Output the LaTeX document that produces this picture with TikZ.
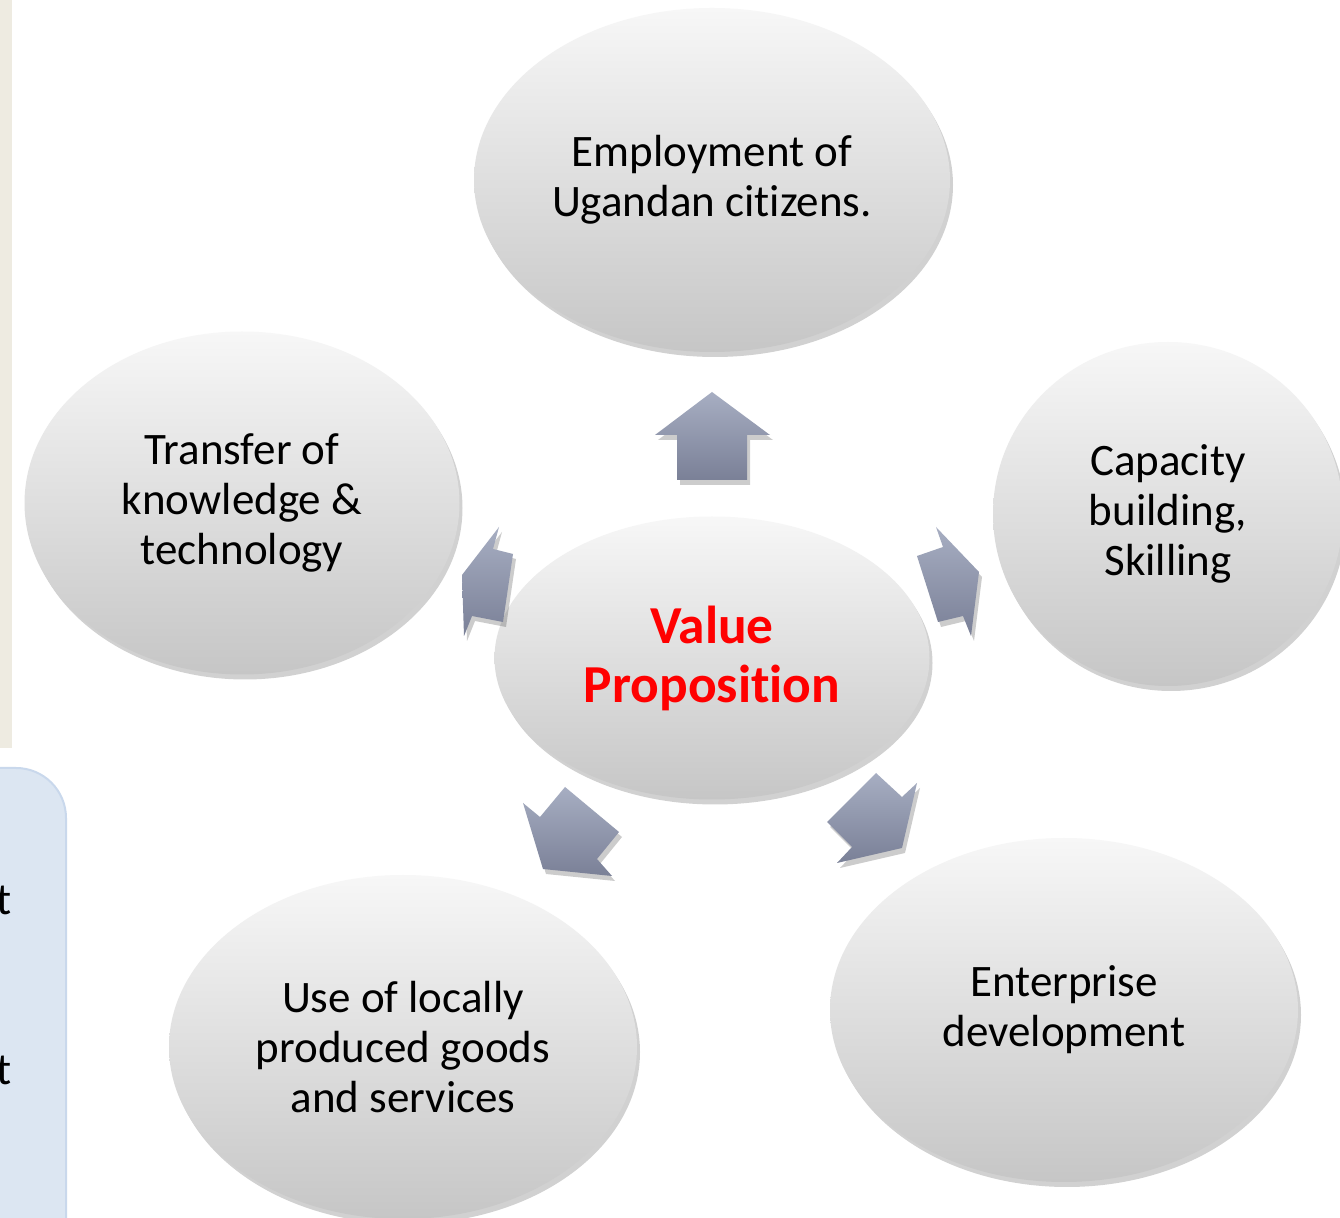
\documentclass[tikz,border=0pt]{standalone}
\usepackage{fontspec}
\setmainfont[Ligatures=NoCommon]{Carlito}
\usetikzlibrary{shadows,shapes.geometric}
\definecolor{beigepanel}{HTML}{EEEBE1}
\definecolor{bluepanel}{HTML}{DCE6F2}
\definecolor{blueedge}{HTML}{C9D8EC}
\definecolor{arrtop}{HTML}{A7AEC2}
\definecolor{arrbot}{HTML}{7A8097}
\definecolor{elltop}{HTML}{F7F7F7}
\definecolor{ellbot}{HTML}{C6C6C6}
\tikzset{
  bubble/.style={ellipse, inner sep=0pt, align=center,
    top color=elltop, bottom color=ellbot, draw=none,
    font=\fontsize{22.5}{25}\selectfont,
    drop shadow={shadow xshift=1.5pt, shadow yshift=-2.5pt, opacity=0.18, fill=black}},
  blockarrow/.style={top color=arrtop, bottom color=arrbot, draw=none,
    drop shadow={shadow xshift=1.5pt, shadow yshift=-2.5pt, opacity=0.2, fill=black}},
  edgeletter/.style={inner sep=0pt, font=\fontsize{22.5}{25}\selectfont}
}
\begin{document}
\begin{tikzpicture}[x=0.5pt,y=-0.5pt]
\useasboundingbox (0,0) rectangle (1340,1218);
\fill[white] (0,0) rectangle (1340,1218);
% left panels
\fill[beigepanel] (0,0) rectangle (12,748);
\filldraw[fill=bluepanel, draw=blueedge, line width=1pt, rounded corners=25pt] (-60,768) rectangle (66,1290);
\node[edgeletter, anchor=base west] (t1) at (-4,915) {t};
\node[edgeletter, anchor=base west] (t2) at (-4,1085) {t};
% bubbles
\node[bubble, minimum width=476pt*0.5, minimum height=344pt*0.5] (emp) at (712,180) {Employment of\\Ugandan citizens.};
\node[bubble, minimum width=435pt*0.5, minimum height=343pt*0.5] (tra) at (242,503) {Transfer of\\knowledge \&\\technology};
\node[bubble, minimum width=350pt*0.5, minimum height=344pt*0.5] (cap) at (1168,514) {Capacity\\building,\\Skilling};
\node[bubble, minimum width=468pt*0.5, minimum height=344pt*0.5] (use) at (403,1047) {Use of locally\\produced goods\\and services};
\node[bubble, minimum width=468pt*0.5, minimum height=344pt*0.5] (ent) at (1064,1010) {Enterprise\\development};
\node[bubble, minimum width=435pt*0.5, minimum height=283pt*0.5, text=red,
  font=\fontsize{26.7}{29.5}\selectfont\bfseries] (val) at (712,658) {Value\\Proposition};
% block arrows
\path[blockarrow] (712,392) -- (770,435) -- (747,435) -- (747,480) -- (677,480) -- (677,435) -- (655,435) -- cycle;
\path[blockarrow] (499,527) -- (493,549) -- (513,554) -- (503,622) -- (472,616) -- (464,636) -- (462,575) -- cycle;
\path[blockarrow] (936,527) -- (943,547) -- (917,556) -- (938,622) -- (963,616) -- (971,636) -- (979,572) -- cycle;
\path[blockarrow] (523,803) -- (540,817) -- (565,787) -- (619,832) -- (597,859) -- (612,876) -- (543,869) -- cycle;
\path[blockarrow] (876,773) -- (902,797) -- (917,783) -- (902,848) -- (837,863) -- (852,847) -- (827,822) -- cycle;
\end{tikzpicture}
\end{document}
